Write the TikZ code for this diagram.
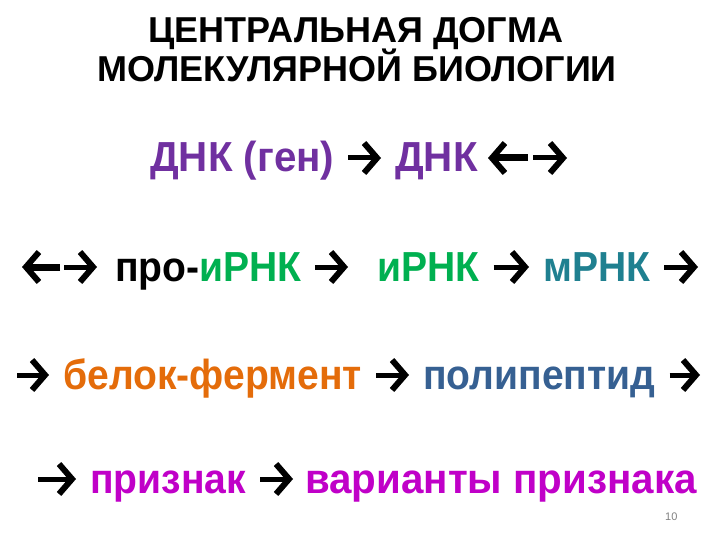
\documentclass[tikz,border=0pt]{standalone}
\usepackage{fontspec}
\setmainfont{Liberation Sans}
\newfontfamily\slidefont[FakeStretch=0.96]{Liberation Sans}
\newfontfamily\slidenarrow[FakeStretch=0.93]{Liberation Sans}
\usetikzlibrary{calc, positioning, arrows.meta}
\definecolor{dnapurple}{HTML}{7030A0}
\definecolor{irnagreen}{HTML}{00B050}
\definecolor{mrnateal}{HTML}{1F8090}
\definecolor{protorange}{HTML}{E46C0A}
\definecolor{peptblue}{HTML}{366092}
\definecolor{traitpink}{HTML}{C000C8}
\tikzstyle{word}=[anchor=base west, inner sep=0pt, text height=28pt, text depth=0pt, font=\slidefont\bfseries\fontsize{42}{48}\selectfont]
\tikzstyle{narrowword}=[word, font=\slidenarrow\bfseries\fontsize{42}{48}\selectfont]
\tikzstyle{flow}=[line width=5pt, -{Straight Barb[length=13pt, width=30pt, line width=6pt]}, shorten <=14pt, shorten >=14pt]

\begin{document}
\begin{tikzpicture}[x=1pt, y=-1pt]
		\useasboundingbox (0,0) rectangle (720,540);
		
		% Title
		\node[anchor=base, inner sep=0pt, font=\bfseries\fontsize{36}{40}\selectfont] (title1) at (356,43) {ЦЕНТРАЛЬНАЯ ДОГМА};
		\node[anchor=base, inner sep=0pt, font=\bfseries\fontsize{36}{40}\selectfont] (title2) at (357,82) {МОЛЕКУЛЯРНОЙ БИОЛОГИИ};
		
		% Line 1
		\node[word, text=dnapurple] (dnagen) at (150,172) {ДНК (ген)};
		\node[word, text=dnapurple] (dna) at (395,172) {ДНК};
		\coordinate (dblstart1) at (488,158);
		\coordinate (dblmid1) at (528,158);
		\coordinate (dblend1) at (567,158);
		\draw[flow] (dnagen) -- (dna);
		\draw[flow, line width=7pt, shorten <=0pt, shorten >=0pt] (dblmid1) -- (dblstart1);
		\draw[flow, shorten <=5pt, shorten >=0pt] (dblmid1) -- (dblend1);
		
		% Line 2
		\coordinate (dblstart2) at (22,267);
		\coordinate (dblmid2) at (60,267);
		\coordinate (dblend2) at (97,267);
		\node[narrowword] (preirna) at (115,281) {про-\textcolor{irnagreen}{иРНК}};
		\node[narrowword, text=irnagreen] (irna) at (377,281) {иРНК};
		\node[narrowword, text=mrnateal] (mrna) at (543,281) {мРНК};
		\coordinate (end2) at (698,267);
		\draw[flow, line width=7pt, shorten <=0pt, shorten >=0pt] (dblmid2) -- (dblstart2);
		\draw[flow, shorten <=4pt, shorten >=0pt] (dblmid2) -- (dblend2);
		\draw[flow, shorten <=13pt, shorten >=29pt] (preirna) -- (irna);
		\draw[flow] (irna) -- (mrna);
		\draw[flow, shorten >=0pt] (mrna) -- (end2);
		
		% Line 3
		\coordinate (start3) at (17,375);
		\node[narrowword, text=protorange] (protein) at (63,389) {белок-фермент};
		\node[narrowword, text=peptblue] (peptide) at (423,389) {полипептид};
		\coordinate (end3) at (700,375);
		\draw[flow, shorten <=0pt] (start3) -- (protein);
		\draw[flow] (protein) -- (peptide);
		\draw[flow, shorten >=0pt] (peptide) -- (end3);
		
		% Line 4
		\coordinate (start4) at (38,479);
		\node[narrowword, text=traitpink] (trait) at (90,493) {признак};
		\node[word, text=traitpink] (variants) at (305,493) {варианты признака};
		\draw[flow, shorten <=0pt] (start4) -- (trait);
		\draw[flow, shorten >=12pt] (trait) -- (variants);
		
		% Page number
		\node[anchor=base west, inner sep=0pt, text=gray, font=\fontsize{11}{13}\selectfont] (pagenum) at (665,520) {10};
		
	\end{tikzpicture}
\end{document}
